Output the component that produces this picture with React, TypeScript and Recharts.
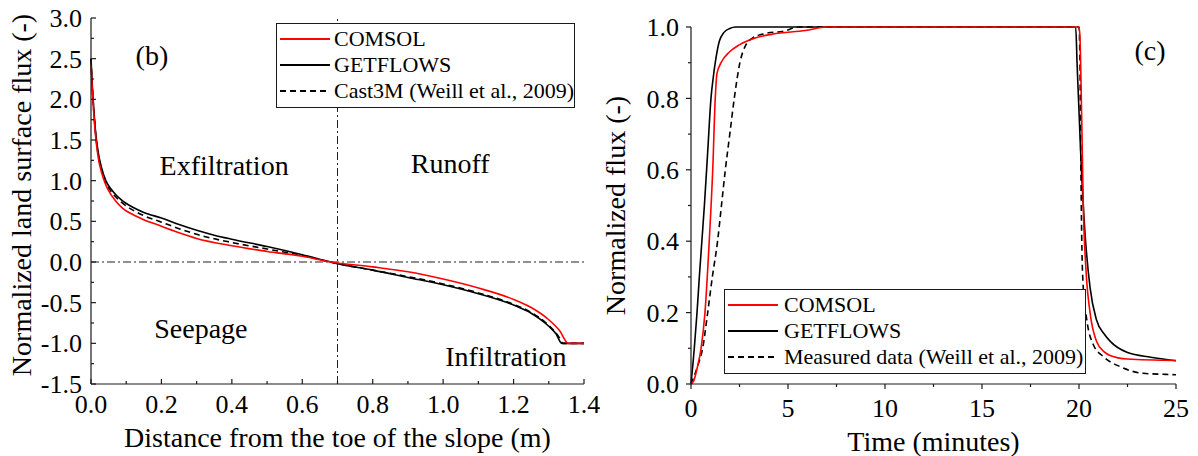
import { Legend, Line, LineChart, ReferenceDot, ReferenceLine, XAxis, YAxis } from "recharts";

const FONT = '"Liberation Serif", "Times New Roman", serif';
const AXIS = "#1a1a1a";
const RED = "#ff0000";
const BLACK = "#000000";

// (b) land surface flux along the slope
const comsolBX = [0, 0.004, 0.008, 0.013, 0.02, 0.03, 0.04, 0.055, 0.07, 0.09, 0.12, 0.15, 0.2, 0.25, 0.3, 0.4, 0.5, 0.6, 0.68, 0.8, 0.9, 1.0, 1.1, 1.2, 1.25, 1.3, 1.33, 1.356, 1.4];
const comsolBY = [2.42, 2.1, 1.82, 1.55, 1.3, 1.1, 0.97, 0.84, 0.75, 0.66, 0.58, 0.52, 0.44, 0.36, 0.29, 0.2, 0.13, 0.07, 0.0, -0.06, -0.12, -0.21, -0.32, -0.46, -0.56, -0.71, -0.84, -1.0, -1.0];
const getflowsBX = [0, 0.004, 0.008, 0.013, 0.02, 0.03, 0.042, 0.06, 0.087, 0.12, 0.15, 0.2, 0.25, 0.3, 0.35, 0.4, 0.5, 0.6, 0.7, 0.8, 0.9, 1.0, 1.1, 1.2, 1.25, 1.3, 1.32, 1.337, 1.4];
const getflowsBY = [2.5, 2.15, 1.88, 1.6, 1.36, 1.16, 1.0, 0.88, 0.76, 0.67, 0.61, 0.54, 0.46, 0.39, 0.33, 0.28, 0.19, 0.09, -0.02, -0.1, -0.19, -0.28, -0.39, -0.53, -0.63, -0.79, -0.88, -1.0, -1.0];
const cast3mBX = [0, 0.004, 0.008, 0.013, 0.02, 0.03, 0.04, 0.06, 0.08, 0.1, 0.15, 0.2, 0.25, 0.3, 0.4, 0.5, 0.6, 0.7, 0.8, 0.9, 1.0, 1.1, 1.2, 1.25, 1.3, 1.33, 1.34, 1.4];
const cast3mBY = [2.5, 2.12, 1.85, 1.58, 1.33, 1.13, 1.0, 0.85, 0.76, 0.69, 0.57, 0.49, 0.41, 0.34, 0.24, 0.16, 0.08, -0.02, -0.1, -0.18, -0.27, -0.38, -0.52, -0.62, -0.78, -0.93, -1.0, -1.0];

const xMajorB = [0, 0.2, 0.4, 0.6, 0.8, 1.0, 1.2, 1.4];
const xMinorB = [0.1, 0.3, 0.5, 0.7, 0.9, 1.1, 1.3];
const yMajorB = [-1.5, -1.0, -0.5, 0, 0.5, 1.0, 1.5, 2.0, 2.5, 3.0];
const yMinorB = [-1.25, -0.75, -0.25, 0.25, 0.75, 1.25, 1.75, 2.25, 2.75];

// (c) normalized outflow over time
const comsolCX = [0, 0.15, 0.34, 0.52, 0.72, 0.94, 1.12, 1.25, 1.34, 1.55, 1.98, 2.49, 3.35, 4.2, 5.9, 7, 20.0, 20.05, 20.14, 20.22, 20.36, 20.57, 20.9, 21.3, 21.6, 22.5, 25];
const comsolCY = [0, 0.01, 0.05, 0.1, 0.2, 0.4, 0.6, 0.8, 0.87, 0.9, 0.93, 0.95, 0.97, 0.98, 0.99, 1.0, 1.0, 0.97, 0.74, 0.5, 0.32, 0.2, 0.12, 0.09, 0.08, 0.07, 0.066];
const getflowsCX = [0, 0.17, 0.31, 0.43, 0.56, 0.69, 0.86, 1.03, 1.15, 1.25, 1.46, 1.7, 2.0, 2.3, 19.83, 19.9, 20.1, 20.3, 20.57, 20.9, 21.3, 21.6, 22.5, 23.7, 25];
const getflowsCY = [0, 0.1, 0.2, 0.3, 0.4, 0.5, 0.65, 0.8, 0.86, 0.9, 0.96, 0.985, 0.996, 1.0, 1.0, 0.9, 0.63, 0.43, 0.27, 0.18, 0.14, 0.12, 0.088, 0.075, 0.065];
const measuredCX = [0, 0.34, 0.6, 0.86, 1.1, 1.37, 1.57, 1.77, 2.0, 2.23, 2.52, 2.83, 3.2, 3.7, 4.9, 5.5, 20.0, 20.05, 20.09, 20.14, 20.22, 20.4, 20.74, 21.25, 22.1, 23.3, 24.5, 25];
const measuredCY = [0, 0.05, 0.1, 0.2, 0.3, 0.4, 0.5, 0.6, 0.7, 0.8, 0.9, 0.95, 0.97, 0.98, 0.99, 1.0, 1.0, 0.9, 0.65, 0.41, 0.27, 0.18, 0.11, 0.077, 0.049, 0.03, 0.027, 0.026];

const xMajorC = [0, 5, 10, 15, 20, 25];
const xMinorC = [2.5, 7.5, 12.5, 17.5, 22.5];
const yMajorC = [0, 0.2, 0.4, 0.6, 0.8, 1.0];
const yMinorC = [0.1, 0.3, 0.5, 0.7, 0.9];

const pts = (xs: number[], ys: number[]) => xs.map((x, i) => ({ x, y: ys[i] }));
const merge = (a: number[], b: number[]) => [...a, ...b].sort((p, q) => p - q);

type Side = "bottom" | "top" | "left" | "right";

// draws the tick line (inward or outward) and, for major ticks, the label
function makeTick(side: Side, inward: boolean, majors: number[], fmt?: (v: number) => string, gap = 0) {
  return (p: any) => {
    const v = Number(p.payload.value);
    const major = majors.some((m) => Math.abs(m - v) < 1e-6);
    const len = (major ? 5 : 3) * (inward ? -1 : 1);
    let x2 = p.x;
    let y2 = p.y;
    if (side === "bottom") y2 = p.y + len;
    if (side === "top") y2 = p.y - len;
    if (side === "left") x2 = p.x - len;
    if (side === "right") x2 = p.x + len;
    return (
      <g>
        <line x1={p.x} y1={p.y} x2={x2} y2={y2} stroke={AXIS} strokeWidth={1.2} />
        {major && fmt && side === "bottom" && (
          <text x={p.x} y={p.y + gap} textAnchor="middle" fontSize={26} fill="#000" style={{ fontFamily: FONT }}>
            {fmt(v)}
          </text>
        )}
        {major && fmt && side === "left" && (
          <text x={p.x - gap} y={p.y} dy="0.35em" textAnchor="end" fontSize={26} fill="#000" style={{ fontFamily: FONT }}>
            {fmt(v)}
          </text>
        )}
      </g>
    );
  };
}

function xTitle(text: string, baseline: number) {
  return (p: any) => {
    const vb = p.viewBox;
    return (
      <text x={vb.x + vb.width / 2} y={vb.y + baseline} textAnchor="middle" fontSize={28} fill="#000" style={{ fontFamily: FONT }}>
        {text}
      </text>
    );
  };
}

function yTitle(text: string, cx: number, shift: number) {
  return (p: any) => {
    const vb = p.viewBox;
    const cy = vb.y + vb.height / 2 + shift;
    return (
      <text x={cx} y={cy} transform={`rotate(-90, ${cx}, ${cy})`} textAnchor="middle" dominantBaseline="central" fontSize={28} fill="#000" style={{ fontFamily: FONT }}>
        {text}
      </text>
    );
  };
}

interface LegendRow {
  name: string;
  color: string;
  dash?: string;
}

function LegendBox({ rows, width, gap }: { rows: LegendRow[]; width: number; gap: number }) {
  return (
    <div style={{ width, boxSizing: "border-box", border: `1px solid ${AXIS}`, background: "#fff", padding: "2px 3px 3px", fontFamily: FONT, fontSize: 22 }}>
      {rows.map((r) => (
        <div key={r.name} style={{ display: "flex", alignItems: "center", height: 26, whiteSpace: "nowrap" }}>
          <svg width={50} height={10} style={{ marginRight: gap, flex: "none" }}>
            <line x1={0} y1={5} x2={50} y2={5} stroke={r.color} strokeWidth={1.8} strokeDasharray={r.dash} />
          </svg>
          <span>{r.name}</span>
        </div>
      ))}
    </div>
  );
}

const rowsB: LegendRow[] = [
  { name: "COMSOL", color: RED },
  { name: "GETFLOWS", color: BLACK },
  { name: "Cast3M (Weill et al., 2009)", color: BLACK, dash: "6 4" },
];
const rowsC: LegendRow[] = [
  { name: "COMSOL", color: RED },
  { name: "GETFLOWS", color: BLACK },
  { name: "Measured data (Weill et al., 2009)", color: BLACK, dash: "6 4" },
];

const note = (value: string) => ({ value, position: "center" as const, fontSize: 28, fill: "#000" });

function ChartB() {
  return (
    <LineChart width={600} height={456} margin={{ top: 18, right: 16, bottom: 0, left: 0 }}>
      <XAxis
        type="number"
        dataKey="x"
        domain={[0, 1.4]}
        ticks={merge(xMajorB, xMinorB)}
        interval={0}
        height={72}
        tickSize={0}
        tickMargin={0}
        tickLine={false}
        axisLine={{ stroke: AXIS, strokeWidth: 1.2 }}
        tick={makeTick("bottom", true, xMajorB, (v) => v.toFixed(1), 29)}
        label={xTitle("Distance from the toe of the slope (m)", 63)}
      />
      <XAxis
        xAxisId="top"
        orientation="top"
        type="number"
        domain={[0, 1.4]}
        ticks={merge(xMajorB, xMinorB)}
        interval={0}
        height={0}
        tickSize={0}
        tickMargin={0}
        tickLine={false}
        axisLine={{ stroke: AXIS, strokeWidth: 1.2 }}
        tick={makeTick("top", true, xMajorB)}
      />
      <YAxis
        type="number"
        domain={[-1.5, 3]}
        ticks={merge(yMajorB, yMinorB)}
        interval={0}
        width={91}
        tickSize={0}
        tickMargin={0}
        tickLine={false}
        axisLine={{ stroke: AXIS, strokeWidth: 1.2 }}
        tick={makeTick("left", true, yMajorB, (v) => v.toFixed(1), 9)}
        label={yTitle("Normalized land surface flux (-)", 21, -6)}
      />
      <YAxis
        yAxisId="right"
        orientation="right"
        type="number"
        domain={[-1.5, 3]}
        ticks={merge(yMajorB, yMinorB)}
        interval={0}
        width={0}
        tickSize={0}
        tickMargin={0}
        tickLine={false}
        axisLine={{ stroke: AXIS, strokeWidth: 1.2 }}
        tick={makeTick("right", true, yMajorB)}
      />
      <ReferenceLine x={0.7} stroke="#222" strokeWidth={1} strokeDasharray="8 3 2 3" />
      <ReferenceLine y={0} stroke="#222" strokeWidth={1} strokeDasharray="8 3 2 3" />
      <Line data={pts(cast3mBX, cast3mBY)} dataKey="y" type="monotone" stroke={BLACK} strokeWidth={1.6} strokeDasharray="6 4" dot={false} isAnimationActive={false} />
      <Line data={pts(getflowsBX, getflowsBY)} dataKey="y" type="monotone" stroke={BLACK} strokeWidth={1.6} dot={false} isAnimationActive={false} />
      <Line data={pts(comsolBX, comsolBY)} dataKey="y" type="monotone" stroke={RED} strokeWidth={1.6} dot={false} isAnimationActive={false} />
      <ReferenceDot x={0.173} y={2.54} r={0} fill="none" stroke="none" label={note("(b)")} />
      <ReferenceDot x={0.378} y={1.19} r={0} fill="none" stroke="none" label={note("Exfiltration")} />
      <ReferenceDot x={1.02} y={1.22} r={0} fill="none" stroke="none" label={note("Runoff")} />
      <ReferenceDot x={0.312} y={-0.81} r={0} fill="none" stroke="none" label={note("Seepage")} />
      <ReferenceDot x={1.178} y={-1.16} r={0} fill="none" stroke="none" label={note("Infiltration")} />
      <Legend
        layout="vertical"
        align="center"
        verticalAlign="middle"
        wrapperStyle={{ top: 23, left: 276, width: 299 }}
        content={() => <LegendBox rows={rowsB} width={299} gap={4} />}
      />
    </LineChart>
  );
}

function ChartC() {
  return (
    <LineChart width={598} height={456} margin={{ top: 27, right: 22, bottom: 0, left: 0 }}>
      <XAxis
        type="number"
        dataKey="x"
        domain={[0, 25]}
        ticks={merge(xMajorC, xMinorC)}
        interval={0}
        height={72}
        tickSize={0}
        tickMargin={0}
        tickLine={false}
        axisLine={{ stroke: AXIS, strokeWidth: 1.2 }}
        tick={makeTick("bottom", false, xMajorC, (v) => String(v), 33)}
        label={xTitle("Time (minutes)", 67)}
      />
      <YAxis
        type="number"
        domain={[0, 1]}
        ticks={merge(yMajorC, yMinorC)}
        interval={0}
        width={91}
        tickSize={0}
        tickMargin={0}
        tickLine={false}
        axisLine={{ stroke: AXIS, strokeWidth: 1.2 }}
        tick={makeTick("left", false, yMajorC, (v) => v.toFixed(1), 12)}
        label={yTitle("Normalized flux (-)", 15.5, 0)}
      />
      <Line data={pts(measuredCX, measuredCY)} dataKey="y" type="monotone" stroke={BLACK} strokeWidth={1.6} strokeDasharray="6 4" dot={false} isAnimationActive={false} />
      <Line data={pts(getflowsCX, getflowsCY)} dataKey="y" type="monotone" stroke={BLACK} strokeWidth={1.6} dot={false} isAnimationActive={false} />
      <Line data={pts(comsolCX, comsolCY)} dataKey="y" type="monotone" stroke={RED} strokeWidth={1.6} dot={false} isAnimationActive={false} />
      <ReferenceDot x={23.66} y={0.935} r={0} fill="none" stroke="none" label={note("(c)")} />
      <Legend
        layout="vertical"
        align="center"
        verticalAlign="middle"
        wrapperStyle={{ top: 289, left: 124, width: 362 }}
        content={() => <LegendBox rows={rowsC} width={362} gap={6} />}
      />
    </LineChart>
  );
}

export default function App() {
  return (
    <div style={{ position: "absolute", left: 0, top: 0, width: 1198, height: 456, background: "#fff", fontFamily: FONT }}>
      <div style={{ position: "absolute", left: 0, top: 0 }}>
        <ChartB />
      </div>
      <div style={{ position: "absolute", left: 600, top: 0 }}>
        <ChartC />
      </div>
    </div>
  );
}
